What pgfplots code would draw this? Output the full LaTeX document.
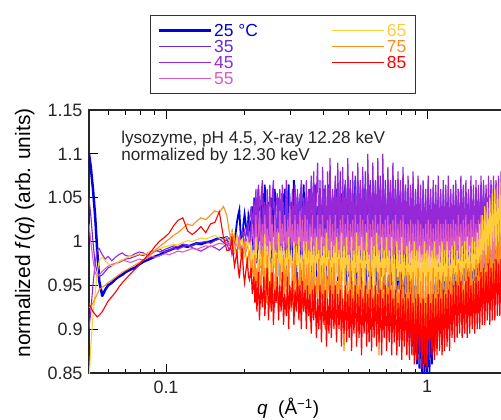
\documentclass[border=0pt]{standalone}
\usepackage{fontspec}
\setmainfont{Liberation Sans}
\usepackage{pgfplots}
\usepackage{pgfplotstable}
\pgfplotsset{compat=1.18}
\definecolor{c25}{RGB}{0,0,225}
\definecolor{c35}{RGB}{100,40,230}
\definecolor{c45}{RGB}{150,40,215}
\definecolor{c55}{RGB}{220,90,200}
\definecolor{c65}{RGB}{255,205,55}
\definecolor{c75}{RGB}{255,140,30}
\definecolor{c85}{RGB}{255,0,0}
\pgfplotstableread{
q a b c d e f g
0.0507 1.100 1.050 0.900 1.020 0.840 0.925 0.930
0.0515 1.085 1.030 0.920 1.000 0.880 0.925 0.925
0.0525 1.060 1.000 0.950 0.980 0.915 0.930 0.920
0.0535 1.030 0.975 0.975 0.965 0.940 0.935 0.917
0.0545 0.990 0.965 0.990 0.960 0.965 0.940 0.914
0.0555 0.955 0.960 0.992 0.962 0.978 0.945 0.916
0.0570 0.938 0.962 0.985 0.966 0.982 0.948 0.920
0.0585 0.945 0.966 0.980 0.969 0.978 0.950 0.926
0.0600 0.950 0.970 0.983 0.972 0.975 0.953 0.932
0.0620 0.953 0.972 0.978 0.974 0.972 0.956 0.937
0.0640 0.957 0.975 0.982 0.975 0.974 0.959 0.942
0.0660 0.960 0.976 0.985 0.977 0.977 0.962 0.948
0.0680 0.962 0.978 0.987 0.979 0.979 0.965 0.953
0.0700 0.965 0.980 0.984 0.978 0.981 0.967 0.957
0.0730 0.968 0.981 0.983 0.976 0.983 0.970 0.963
0.0760 0.970 0.983 0.986 0.978 0.984 0.973 0.968
0.0790 0.974 0.985 0.988 0.980 0.986 0.976 0.974
0.0820 0.977 0.984 0.987 0.979 0.985 0.979 0.979
0.0850 0.979 0.987 0.984 0.981 0.987 0.982 0.984
0.0880 0.981 0.989 0.986 0.983 0.989 0.986 0.989
0.0910 0.983 0.990 0.989 0.982 0.990 0.990 0.995
0.0950 0.985 0.988 0.991 0.984 0.992 0.995 1.001
0.0990 0.988 0.991 0.988 0.986 0.994 0.999 1.005
0.1030 0.990 0.993 0.990 0.985 0.995 1.003 1.010
0.1070 0.992 0.995 0.993 0.987 0.997 1.007 1.018
0.1110 0.993 0.994 0.991 0.989 0.996 1.010 1.024
0.1160 0.995 0.997 0.994 0.988 0.999 1.015 1.027
0.1210 0.994 0.996 0.996 0.990 1.001 1.020 1.012
0.1260 0.996 0.995 0.993 0.992 1.000 1.018 1.008
0.1310 0.998 0.998 0.991 0.991 1.002 1.023 1.012
0.1360 0.997 0.999 0.989 0.993 1.004 1.027 1.017
0.1420 0.999 1.000 0.992 0.995 1.003 1.025 1.010
0.1480 1.000 0.998 0.995 0.994 1.005 1.030 1.020
0.1540 1.002 1.001 0.993 0.996 1.007 1.035 1.022
0.1600 1.004 1.003 0.990 0.998 1.004 1.033 1.034
0.1660 1.003 0.999 0.994 0.997 1.002 1.040 1.005
0.1710 1.005 1.002 0.997 0.999 1.005 1.030 0.990
0.175 1.00 0.995 0.99 0.995 1.00 1.01 0.99
}\datalow
\pgfplotstableread{
q a b c d e f g
0.175 1.00 0.995 0.99 0.995 1.00 1.01 0.99
0.177 1.005 1.00 0.995 1.00 1.005 1.005 0.995
0.179 1.01 1.003 0.985 1.002 1.012 0.994 1.004
0.181 1.00 0.995 0.99 0.995 1.00 1.00 0.985
0.183 0.995 0.99 0.996 0.988 0.99 1.006 0.972
0.185 1.01 1.00 0.99 0.995 0.998 0.99 0.98
0.187 1.022 1.006 0.989 0.997 1.006 0.984 0.988
0.189 1.03 0.998 0.995 1.002 0.995 0.995 0.97
0.191 1.036 0.994 1.002 1.006 0.994 1.00 0.958
0.193 1.01 1.005 0.99 0.995 1.00 0.985 0.975
0.196 1.002 1.012 0.995 0.989 1.003 0.978 0.992
0.198 1.02 1.00 1.005 0.998 0.99 0.99 0.965
0.200 1.031 0.999 1.012 1.001 0.984 0.996 0.953
0.203 1.015 1.01 1.00 0.99 0.995 0.98 0.97
0.205 1.008 1.018 1.001 0.994 1.002 0.972 0.978
0.207 1.03 1.005 1.015 1.002 0.99 0.985 0.96
0.209 1.024 1.001 1.024 1.008 0.978 0.988 0.956
0.212 0.99 1.02 1.04 0.99 1.00 0.96 0.97
0.214 1.04 1.03 1.01 1.02 0.97 0.98 0.94
0.217 0.98 0.99 1.05 1.00 0.99 0.95 0.96
0.219 1.05 1.04 1.00 0.98 0.96 0.985 0.93
0.221 1.00 1.00 1.06 1.03 1.005 0.94 0.955
0.223 0.975 1.045 1.02 0.99 0.98 0.97 0.92
0.226 1.06 0.99 1.065 1.01 0.955 0.95 0.965
0.228 1.01 1.03 1.00 1.035 1.00 0.98 0.91
0.231 0.97 0.985 1.05 0.985 0.97 0.935 0.95
0.234 1.055 1.05 1.07 1.02 0.99 0.99 0.925
0.237 0.99 1.00 1.01 0.975 0.95 0.945 0.96
0.239 1.065 1.04 1.045 1.03 1.008 0.97 0.915
0.242 1.00 0.99 1.00 0.99 0.965 0.93 0.945
0.244 0.965 1.035 1.06 1.015 0.995 0.985 0.97
0.247 1.045 0.995 1.015 0.98 0.96 0.95 0.91
0.250 1.02 1.05 1.065 1.04 1.00 0.925 0.955
0.253 0.975 1.00 0.995 0.99 0.975 0.98 0.92
0.255 1.05 1.03 1.05 1.02 0.95 0.94 0.965
0.258 0.98 0.98 1.07 0.97 1.005 0.97 0.905
0.261 1.06 1.045 1.00 1.03 0.97 0.925 0.945
0.264 1.01 0.99 1.04 0.99 0.99 0.985 0.93
0.267 0.96 1.025 1.055 1.015 0.955 0.945 0.96
0.270 1.04 1.05 0.995 0.975 1.01 0.92 0.91
0.273 1.00 0.985 1.06 1.035 0.965 0.975 0.95
0.276 0.97 1.035 1.01 0.99 0.995 0.95 0.92
0.279 1.055 1.00 1.065 1.02 0.95 0.93 0.965
0.282 0.99 1.045 1.02 0.98 1.00 0.985 0.905
0.285 1.06 0.99 1.00 1.03 0.96 0.94 0.94
0.289 0.96 1.03 1.07 0.985 0.99 0.97 0.915
0.292 1.03 1.05 1.03 1.025 0.955 0.925 0.96
0.295 1.065 0.985 0.995 0.975 1.005 0.98 0.90
0.298 0.98 1.04 1.055 1.04 0.97 0.945 0.95
0.302 1.045 1.00 1.01 0.99 0.99 0.92 0.925
0.305 0.97 1.05 1.06 1.02 0.95 0.975 0.955
0.309 1.07 0.99 1.00 0.98 1.00 0.935 0.905
0.312 1.00 1.035 1.065 1.03 0.965 0.985 0.945
0.316 0.955 0.98 1.015 0.975 0.995 0.93 0.92
0.319 1.05 1.045 1.06 1.02 0.955 0.96 0.965
0.323 0.99 1.00 0.995 0.99 1.005 0.92 0.91
0.326 1.04 1.055 1.045 1.035 0.96 0.975 0.95
0.330 0.95 0.99 1.07 0.98 0.985 0.94 0.90
0.333 1.02 1.04 1.005 1.025 0.95 0.925 0.955
0.337 1.065 0.985 1.05 0.975 1.00 0.98 0.92
0.341 0.975 1.05 1.00 1.03 0.965 0.935 0.945
0.345 1.05 0.99 1.07 0.975 1.00 0.97 0.90
0.348 0.96 1.045 1.00 1.025 0.955 0.925 0.95
0.352 1.03 1.00 1.06 0.97 0.99 0.975 0.915
0.356 1.06 1.06 1.01 1.02 0.945 0.91 0.94
0.360 0.945 0.99 1.075 0.985 1.005 0.965 0.895
0.364 1.02 1.05 1.02 1.03 0.96 0.93 0.945
0.368 0.99 0.98 1.08 0.97 0.995 0.975 0.91
0.372 1.065 1.065 1.00 1.015 0.95 0.915 0.95
0.377 0.955 1.00 1.055 0.98 1.005 0.96 0.89
0.381 1.04 1.04 1.09 1.03 0.965 0.935 0.935
0.385 0.97 0.985 1.005 0.965 0.99 0.98 0.90
0.389 1.05 1.07 1.06 1.02 0.945 0.91 0.95
0.394 0.94 0.99 1.00 0.975 1.005 0.965 0.885
0.398 1.03 1.05 1.085 1.03 0.955 0.925 0.94
0.403 1.06 0.98 1.02 0.97 0.995 0.975 0.905
0.407 0.96 1.06 1.065 1.015 0.95 0.90 0.945
0.412 1.04 1.00 0.995 0.98 1.01 0.96 0.88
0.416 0.95 1.04 1.08 1.025 0.96 0.935 0.935
0.421 1.065 0.985 1.01 0.965 0.99 0.98 0.895
0.425 0.99 1.075 1.095 1.03 0.945 0.915 0.95
0.430 0.945 0.995 1.00 0.975 1.00 0.965 0.89
0.435 1.05 1.05 1.06 1.02 0.955 0.92 0.94
0.440 0.97 0.985 1.02 0.97 0.995 0.975 0.90
0.445 1.03 1.065 1.075 1.03 0.94 0.905 0.95
0.450 1.06 0.99 1.00 0.98 1.005 0.955 0.885
0.455 0.955 1.045 1.09 1.015 0.96 0.93 0.94
0.460 1.04 0.98 1.015 0.965 0.99 0.98 0.90
0.465 0.94 1.08 1.06 1.025 0.95 0.91 0.945
0.470 1.055 1.00 0.995 0.975 1.01 0.965 0.88
0.475 0.98 1.05 1.085 1.03 0.955 0.925 0.935
0.481 1.02 0.985 1.01 0.97 0.995 0.875 0.895
0.486 1.065 1.06 1.07 1.02 0.945 0.97 0.95
0.492 0.95 0.995 1.00 0.975 1.005 0.92 0.885
0.497 1.035 1.045 1.095 1.03 0.96 0.96 0.94
0.503 0.96 0.98 1.02 0.965 0.985 0.90 0.89
0.508 1.06 1.07 1.065 1.02 0.94 0.975 0.945
0.514 0.945 0.99 1.00 0.98 1.005 0.915 0.875
0.519 1.04 1.05 1.08 1.025 0.95 0.955 0.935
0.525 0.99 0.985 1.01 0.97 0.99 0.91 0.895
0.531 1.07 1.075 1.06 1.03 0.945 0.97 0.95
0.537 0.95 1.00 0.995 0.965 1.01 0.925 0.88
0.543 1.02 1.045 1.09 1.02 0.955 0.965 0.94
0.549 0.965 0.98 1.015 0.975 0.995 0.905 0.89
0.555 1.055 1.065 1.07 1.03 0.94 0.975 0.945
0.561 0.94 0.99 1.00 0.97 1.005 0.92 0.87
0.567 1.045 1.05 1.085 1.025 0.955 0.955 0.935
0.574 0.975 0.985 1.01 0.965 0.99 0.90 0.895
0.580 1.06 1.08 1.065 1.02 0.945 0.97 0.95
0.587 0.945 0.995 0.995 0.98 1.01 0.915 0.88
0.593 1.03 1.045 1.10 1.03 0.96 0.96 0.94
0.600 0.96 0.98 1.015 0.97 0.985 0.905 0.885
0.606 1.065 1.07 1.06 1.02 0.94 0.975 0.945
0.613 0.94 0.99 1.00 0.965 1.005 0.92 0.875
0.620 1.05 1.055 1.09 1.025 0.95 0.95 0.935
0.627 0.985 0.985 1.01 0.975 0.995 0.90 0.89
0.634 1.04 1.065 1.07 1.03 0.945 0.97 0.95
0.641 0.95 0.995 0.995 0.97 1.01 0.91 0.88
0.648 1.06 1.05 1.095 1.02 0.955 0.965 0.94
0.655 0.935 0.98 1.015 0.965 0.99 0.87 0.885
0.662 1.035 1.075 1.065 1.03 0.94 0.97 0.945
0.670 0.96 0.99 1.00 0.975 1.005 0.915 0.87
0.677 1.065 1.05 1.10 1.02 0.95 0.955 0.935
0.685 0.945 0.985 1.01 0.97 0.99 0.905 0.89
0.692 1.045 1.07 1.06 1.025 0.945 0.97 0.95
0.700 0.97 0.995 0.995 0.965 1.005 0.92 0.875
0.708 1.03 1.05 1.085 1.03 0.955 0.96 0.94
0.716 0.93 0.98 1.015 0.975 0.99 0.90 0.885
0.724 1.055 1.065 1.07 1.02 0.94 0.975 0.945
0.732 0.95 0.99 1.00 0.97 1.005 0.91 0.87
0.740 1.04 1.055 1.09 1.025 0.95 0.955 0.935
0.749 0.965 0.985 1.01 0.965 0.985 0.90 0.885
0.757 1.05 1.07 1.065 1.03 0.94 0.97 0.945
0.766 0.935 0.99 0.995 0.975 1.00 0.915 0.87
0.774 1.025 1.045 1.08 1.02 0.955 0.95 0.93
0.783 0.945 0.98 1.01 0.97 0.99 0.89 0.88
0.791 1.045 1.06 1.07 1.025 0.94 0.965 0.945
0.800 0.92 0.99 0.995 0.965 1.005 0.91 0.865
0.809 1.03 1.05 1.085 1.03 0.95 0.955 0.935
0.818 0.93 0.985 1.01 0.97 0.985 0.895 0.88
0.827 1.00 1.065 1.065 1.02 0.945 0.97 0.94
0.837 0.91 0.985 1.00 0.965 0.995 0.905 0.87
0.846 0.99 1.05 1.075 1.02 0.94 0.965 0.935
0.856 0.89 0.975 0.995 0.97 1.00 0.91 0.865
0.865 0.975 1.06 1.065 1.025 0.935 0.955 0.94
0.875 0.88 0.99 1.00 0.96 0.99 0.90 0.87
0.884 0.96 1.045 1.08 1.02 0.945 0.965 0.93
0.894 0.87 0.98 0.995 0.965 1.00 0.895 0.86
0.904 0.95 1.055 1.06 1.02 0.935 0.96 0.935
0.914 0.86 0.975 0.99 0.96 0.99 0.905 0.865
0.924 0.94 1.065 1.075 1.025 0.94 0.97 0.94
0.935 0.855 0.985 1.00 0.965 0.995 0.89 0.86
0.945 0.93 1.045 1.065 1.02 0.93 0.955 0.93
0.956 0.85 0.975 0.99 0.96 0.985 0.90 0.855
0.966 0.925 1.06 1.07 1.015 0.94 0.965 0.935
0.977 0.845 0.98 0.995 0.965 1.00 0.895 0.86
0.988 0.92 1.05 1.06 1.02 0.935 0.96 0.93
0.999 0.845 0.975 0.985 0.96 0.99 0.90 0.855
1.010 0.93 1.065 1.075 1.025 0.94 0.965 0.94
1.022 0.85 0.985 1.00 0.965 0.995 0.895 0.865
1.033 0.94 1.045 1.06 1.02 0.93 0.955 0.93
1.045 0.86 0.975 0.99 0.96 0.99 0.905 0.87
1.056 0.95 1.06 1.07 1.015 0.94 0.97 0.94
1.068 0.875 0.98 0.995 0.965 1.00 0.90 0.865
1.080 0.96 1.05 1.065 1.02 0.935 0.96 0.935
1.092 0.89 0.975 0.99 0.96 0.985 0.895 0.87
1.104 0.975 1.055 1.075 1.025 0.94 0.965 0.94
1.117 0.90 0.985 1.00 0.965 0.995 0.905 0.875
1.129 0.985 1.045 1.06 1.02 0.935 0.955 0.935
1.142 0.91 0.975 0.99 0.96 1.00 0.90 0.87
1.154 1.00 1.06 1.07 1.02 0.94 0.965 0.945
1.167 0.92 0.98 0.995 0.965 0.99 0.91 0.875
1.180 1.01 1.05 1.065 1.025 0.935 0.96 0.94
1.193 0.93 0.975 0.99 0.96 1.00 0.90 0.88
1.206 1.02 1.055 1.075 1.02 0.94 0.97 0.945
1.220 0.935 0.985 1.00 0.965 0.99 0.905 0.875
1.233 1.025 1.045 1.06 1.02 0.935 0.96 0.94
1.247 0.94 0.985 1.00 0.97 0.995 0.915 0.89
1.261 1.03 1.055 1.065 1.025 0.945 0.97 0.95
1.275 0.945 0.99 0.995 0.975 1.00 0.92 0.885
1.289 1.04 1.05 1.07 1.02 0.94 0.965 0.955
1.304 0.935 0.98 1.00 0.97 0.99 0.915 0.89
1.318 1.035 1.06 1.06 1.03 0.945 0.975 0.95
1.333 0.95 0.99 0.995 0.975 1.005 0.92 0.895
1.348 1.045 1.05 1.075 1.02 0.94 0.965 0.955
1.363 0.94 0.985 1.00 0.97 0.995 0.925 0.89
1.378 1.03 1.06 1.065 1.025 0.95 0.97 0.945
1.394 0.955 0.99 0.995 0.975 1.00 0.92 0.895
1.409 1.04 1.05 1.07 1.03 0.945 0.975 0.955
1.425 0.945 0.985 1.00 0.97 1.005 0.925 0.89
1.441 1.035 1.055 1.06 1.02 0.95 0.97 0.96
1.457 0.95 0.99 0.995 0.975 0.995 0.92 0.895
1.473 1.045 1.06 1.075 1.025 0.945 0.975 0.95
1.490 0.94 0.985 1.00 0.97 1.005 0.925 0.90
1.506 1.04 1.05 1.065 1.03 0.95 0.97 0.955
1.523 0.955 0.99 0.995 0.975 1.00 0.92 0.895
1.540 1.035 1.06 1.07 1.02 0.955 0.98 0.96
1.557 0.95 0.985 1.00 0.97 1.01 0.925 0.90
1.574 1.045 1.055 1.065 1.025 0.96 0.975 0.955
1.592 0.945 0.99 0.995 0.975 1.02 0.93 0.90
1.610 1.04 1.06 1.075 1.03 0.965 0.985 0.965
1.628 0.96 0.985 1.00 0.97 1.03 0.935 0.905
1.646 1.05 1.065 1.07 1.025 0.97 0.99 0.97
1.665 0.955 0.99 1.00 0.975 1.04 0.94 0.905
1.683 1.04 1.055 1.065 1.03 0.975 0.985 0.965
1.702 0.96 0.995 1.005 0.975 1.045 0.94 0.91
1.720 1.05 1.06 1.075 1.025 0.98 0.995 0.975
1.740 0.955 0.99 1.00 0.98 1.05 0.945 0.905
1.759 1.045 1.065 1.07 1.03 0.985 0.99 0.97
1.779 0.965 0.995 1.005 0.975 1.055 0.945 0.91
1.798 1.05 1.06 1.075 1.03 0.985 1.00 0.975
1.819 0.96 0.99 1.00 0.98 1.06 0.95 0.91
1.839 1.045 1.065 1.07 1.025 0.99 0.995 0.98
1.860 0.965 0.995 1.005 0.98 1.065 0.95 0.915
1.880 1.05 1.06 1.075 1.03 0.99 1.00 0.975
1.901 0.96 0.99 1.00 0.98 1.07 0.955 0.915
1.922 1.045 1.07 1.08 1.03 0.995 1.005 0.98
1.944 0.965 0.995 1.005 0.985 1.075 0.955 0.92
1.965 1.05 1.065 1.07 1.03 1.00 1.00 0.98
1.987 0.97 1.00 1.01 0.985 1.07 0.96 0.92
2.009 1.05 1.06 1.075 1.035 1.00 1.005 0.985
}\datahigh
\begin{document}
\begin{tikzpicture}[x=1bp,y=1bp]
\useasboundingbox (-89,-46) rectangle (412,373);
\begin{axis}[
  at={(0,0)}, anchor=south west,
  scale only axis, width=416.6bp, height=263bp,
  xmode=log, xmin=0.0507, xmax=2, ymin=0.85, ymax=1.15,
  xtick={0.1,1}, xticklabels={0.1,1},
  minor xtick={0.06,0.07,0.08,0.09,0.2,0.3,0.4,0.5,0.6,0.7,0.8,0.9,2},
  ytick={0.85,0.9,0.95,1,1.05,1.1,1.15},
  yticklabels={0.85,0.9,0.95,1,1.05,1.1,1.15},
  ytick pos=left, xtick pos=both,
  tick align=inside,
  major tick length=9bp, minor tick length=4.5bp,
  every tick/.style={black, line width=1bp},
  axis line style={line width=1.2bp, black!85},
  /pgf/number format/assume math mode=true,
  tick label style={font=\fontsize{18}{18}\selectfont, text=black!85},
  yticklabel style={xshift=-3bp},
  xticklabel style={yshift=-4bp},
  xlabel={\textit{q}\ \ (Å\textsuperscript{−1})},
  xlabel style={at={(axis description cs:0.478,-0.133)}, anchor=center, font=\fontsize{19}{19}\selectfont},
  ylabel={normalized \textit{f}(\textit{q}) (arb. units)},
  ylabel style={at={(axis description cs:-0.154,0.532)}, anchor=center, font=\fontsize{21}{21}\selectfont},
  legend style={at={(0.1464,1.361)}, anchor=north west, draw=black!80, line width=1.2bp,
    font=\fontsize{17.5}{16}\selectfont, inner sep=7bp, row sep=0bp,
    nodes={text height=12bp, text depth=0bp, inner sep=2bp},
    /tikz/every even column/.append style={column sep=72bp}},
  transpose legend, legend columns=4, legend cell align=left,
  legend image code/.code={\draw[#1] (0bp,0bp) -- (52bp,0bp);},
]
\addplot[c25, line width=2.5bp, line join=round] table[x=q,y=a] {\datalow};
\addlegendentry{\textcolor{c25}{25 °C}}
\addplot[c25, line width=1.8bp, forget plot] table[x=q,y=a] {\datahigh};
\addplot[c35, line width=1.1bp] table[x=q,y=b] {\datalow};
\addlegendentry{\textcolor{c35}{35}}
\addplot[c35, line width=1.2bp, forget plot] table[x=q,y=b] {\datahigh};
\addplot[c45, line width=1.1bp] table[x=q,y=c] {\datalow};
\addlegendentry{\textcolor{c45}{45}}
\addplot[c45, line width=1.2bp, forget plot] table[x=q,y=c] {\datahigh};
\addplot[c55, line width=1.1bp] table[x=q,y=d] {\datalow};
\addlegendentry{\textcolor{c55}{55}}
\addplot[c55, line width=1.2bp, forget plot] table[x=q,y=d] {\datahigh};
\addplot[c65, line width=1.1bp] table[x=q,y=e] {\datalow};
\addlegendentry{\textcolor{c65}{65}}
\addplot[c65, line width=1.2bp, forget plot] table[x=q,y=e] {\datahigh};
\addplot[c75, line width=1.1bp] table[x=q,y=f] {\datalow};
\addlegendentry{\textcolor{c75}{75}}
\addplot[c75, line width=1.2bp, forget plot] table[x=q,y=f] {\datahigh};
\addplot[c85, line width=1.1bp] table[x=q,y=g] {\datalow};
\addlegendentry{\textcolor{c85}{85}}
\addplot[c85, line width=1.2bp, forget plot] table[x=q,y=g] {\datahigh};
\node[anchor=north west, align=left, inner sep=0pt, font=\fontsize{17.2}{14.5}\selectfont, text=black!85]
  at (rel axis cs:0.077,0.92) {lysozyme, pH 4.5, X-ray 12.28 keV\\normalized by 12.30 keV};
\end{axis}
\end{tikzpicture}
\end{document}
